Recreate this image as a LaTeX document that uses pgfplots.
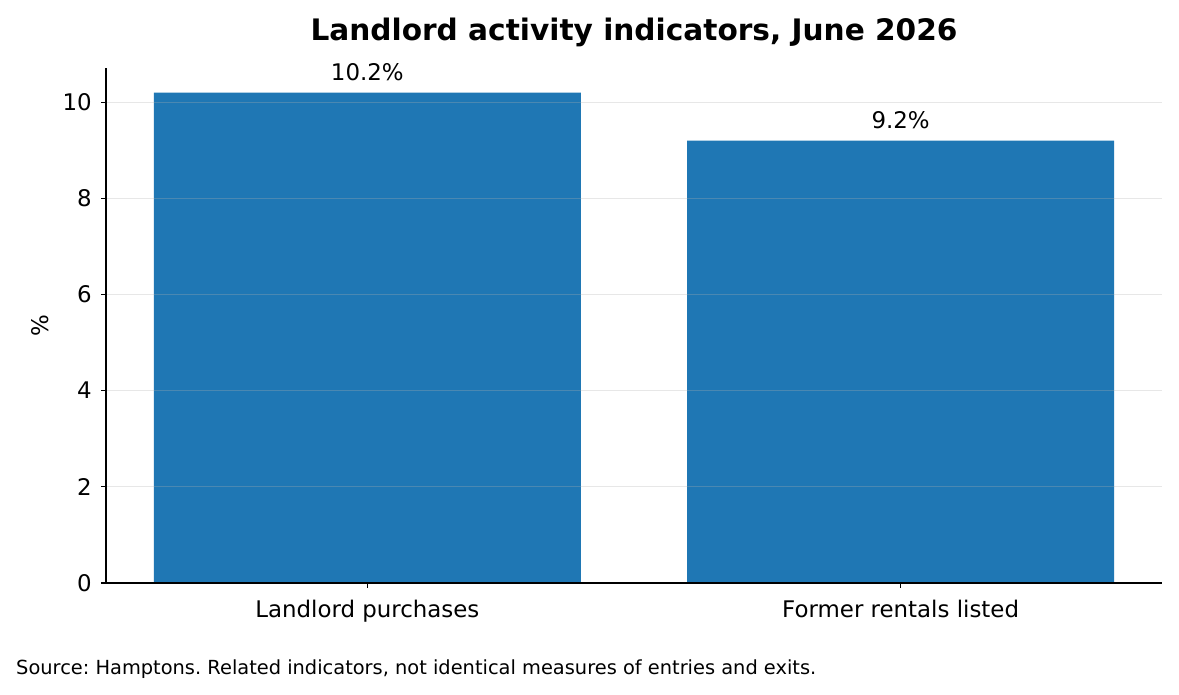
\documentclass[border=0pt]{standalone}
\usepackage{pgfplots}
\pgfplotsset{compat=1.18}
\usepackage{fontspec}
\setmainfont{DejaVu Sans}
\definecolor{barblue}{HTML}{1F77B4}
\definecolor{gridc}{HTML}{B0B0B0}
\frenchspacing
\begin{document}
\begin{tikzpicture}
\path[use as bounding box,fill=white] (0pt,0pt) rectangle (1179pt,695pt);
\begin{axis}[
  at={(106pt,112pt)}, anchor=south west,
  scale only axis, width=1056pt, height=515pt,
  xmin=-0.49, xmax=1.49, ymin=0, ymax=10.71,
  axis x line*=bottom, axis y line*=left,
  axis line style={line width=1.1pt,black},
  xtick={0,1}, xticklabels={Landlord purchases,Former rentals listed},
  ytick={0,2,4,6,8,10},
  tick align=outside, major tick length=5pt,
  tick style={line width=1.1pt,black},
  ymajorgrids=true,
  grid style={draw=gridc, draw opacity=0.3, line width=1pt},
  axis on top,
  tick label style={font=\fontsize{22.9}{27}\selectfont},
  /pgf/number format/assume math mode=true,
  xticklabel style={anchor=base, yshift=-30pt},
  yticklabel style={anchor=east, inner sep=0pt, xshift=-9pt},
  ylabel={\%},
  every axis y label/.style={at={(axis description cs:0,0.5)}, xshift=-66pt, rotate=90, anchor=center, font=\fontsize{22.9}{27}\selectfont},
  ybar, bar width=427pt,
  nodes near coords={\pgfmathprintnumber[fixed,precision=1,fixed zerofill]{\pgfplotspointmeta}\%},
  nodes near coords style={anchor=base, inner sep=0pt, yshift=12pt, font=\fontsize{22.9}{27}\selectfont, black},
  clip=false,
]
\addplot[fill=barblue, draw=none] coordinates {(0,10.2) (1,9.2)};
\end{axis}
\node[anchor=base, inner sep=0pt, font=\fontsize{29.6}{34}\selectfont\bfseries] at (634pt,654pt) {Landlord activity indicators, June 2026};
\node[anchor=base west, inner sep=0pt, font=\fontsize{19.4}{23}\selectfont] at (16pt,20pt) {Source: Hamptons. Related indicators, not identical measures of entries and exits.};
\end{tikzpicture}
\end{document}
